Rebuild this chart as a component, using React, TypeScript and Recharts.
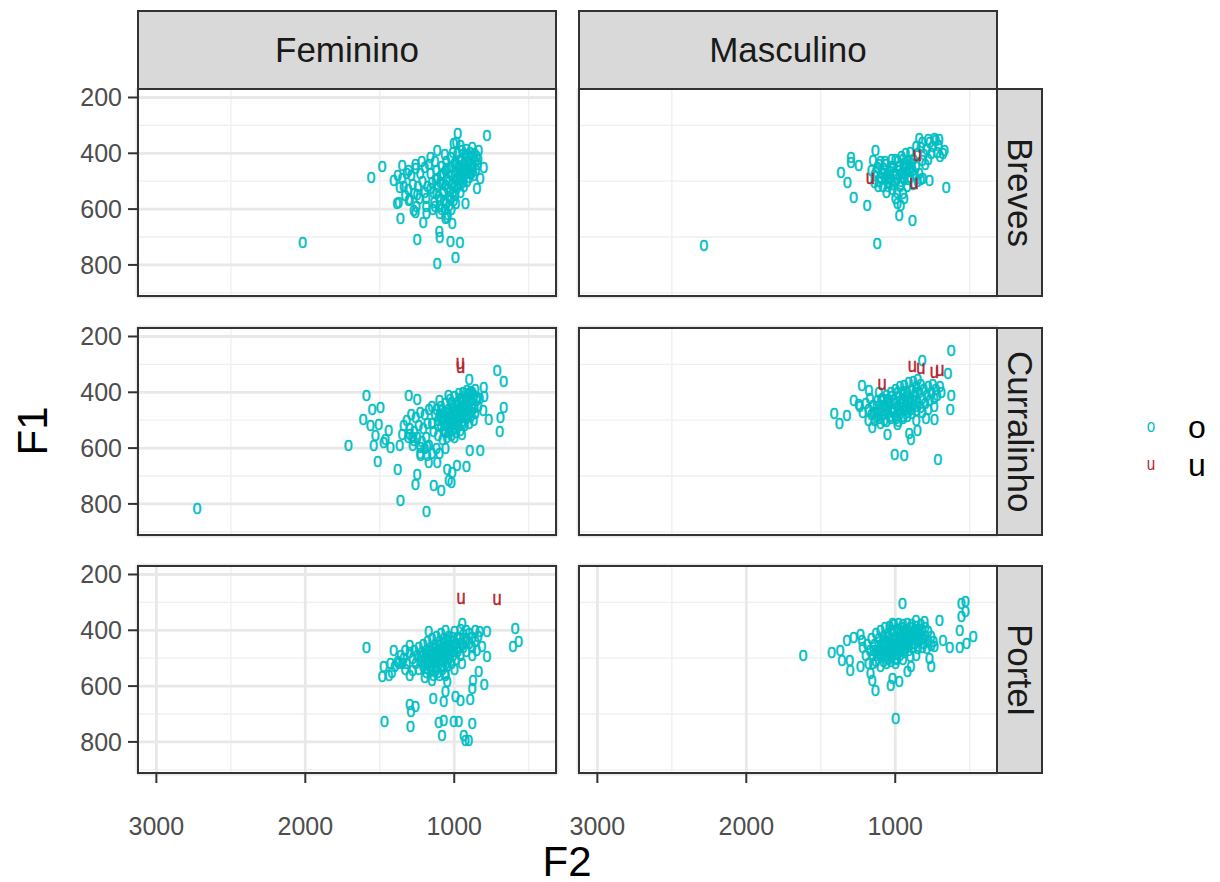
import React from 'react';
import { ScatterChart, Scatter, XAxis, YAxis, CartesianGrid } from 'recharts';

type Pt = [number, number]; // [F2, F1]

const sexes = ['Feminino', 'Masculino'];
const cities = ['Breves', 'Curralinho', 'Portel'];
const vowels = ['o', 'u'];
const xTicks = [1000, 2000, 3000];
const xMinorTicks = [500, 1500, 2500];
const yTicks = [200, 400, 600, 800];
const yMinorTicks = [300, 500, 700, 900];

const femBrevesO: Pt[] = [
  [2018, 718], [1559, 487], [1485, 447], [781, 336], [977, 327], [987, 360], [1005, 364], [1116, 793],
  [993, 774], [1250, 708], [1102, 680], [1099, 700], [1027, 717], [962, 720], [1362, 633], [1210, 647],
  [1015, 652], [1273, 606], [1262, 610], [1188, 614], [1060, 634], [1049, 629], [1385, 580], [1374, 575],
  [1307, 569], [1250, 547], [926, 580], [848, 524], [826, 491], [803, 450], [837, 391], [1161, 414],
  [1116, 390], [1351, 444], [1262, 438], [1307, 461], [1407, 497], [1367, 521],
  [1160, 470], [1150, 505], [1140, 540], [1135, 575], [1145, 600], [1120, 460], [1115, 490], [1110, 520],
  [1105, 555], [1100, 590], [1098, 615], [1090, 480], [1085, 445], [1080, 510], [1075, 540], [1070, 570],
  [1065, 600], [1060, 460], [1055, 430], [1050, 495], [1045, 525], [1040, 555], [1035, 585], [1030, 450],
  [1025, 415], [1020, 480], [1015, 510], [1010, 540], [1005, 570], [1000, 435], [995, 465], [990, 495],
  [985, 525], [980, 400], [975, 450], [970, 480], [965, 510], [960, 540], [955, 420], [950, 390],
  [945, 460], [940, 490], [935, 520], [930, 440], [925, 405], [920, 470], [915, 500], [910, 425],
  [905, 455], [900, 485], [895, 395], [890, 440], [885, 470], [880, 415], [875, 450], [870, 480],
  [865, 400], [860, 430], [855, 460], [850, 410], [845, 440], [840, 420], [1130, 430], [1170, 440],
  [1180, 520], [1190, 560], [1065, 405], [1010, 395], [960, 370], [920, 385], [880, 380], [1045, 620],
  [1020, 600], [990, 580],
  [1125, 495], [1095, 505], [1095, 565], [1085, 600], [1060, 515], [1055, 580], [1035, 500], [1030, 535],
  [1025, 565], [1000, 520], [995, 550], [985, 440], [970, 425], [965, 495], [950, 470], [945, 505],
  [940, 440], [930, 470], [915, 455], [905, 430], [895, 470], [880, 445], [1075, 470], [1120, 545],
  [1130, 590], [1160, 525], [1050, 455], [1000, 480], [920, 410], [960, 455],
  [1200, 450], [1230, 470], [1260, 455], [1290, 480], [1320, 470], [1350, 490], [1215, 500], [1245, 520],
  [1280, 510], [1310, 530], [1340, 520], [1200, 540], [1235, 560], [1270, 545], [1300, 565], [1220, 430],
  [1190, 590], [1255, 590], [1330, 550], [1380, 480],
];
const femBrevesU: Pt[] = [];

const mascBrevesO: Pt[] = [
  [2286, 730], [1122, 724], [1134, 390], [1298, 414], [1298, 432], [1246, 444], [1366, 467], [1321, 503],
  [1280, 557], [1190, 587], [975, 623], [885, 641], [964, 587], [659, 523], [670, 390], [738, 348],
  [771, 497], [817, 491], [986, 581],
  [1100, 430], [1080, 455], [1060, 480], [1040, 505], [1020, 530], [1090, 470], [1070, 495], [1050, 520],
  [1030, 445], [1010, 470], [990, 495], [970, 520], [1000, 420], [980, 445], [960, 470], [940, 495],
  [920, 520], [960, 410], [940, 435], [920, 460], [900, 485], [880, 510], [930, 400], [910, 425],
  [890, 450], [870, 475], [850, 500], [900, 395], [880, 420], [860, 445], [840, 470], [830, 495],
  [1120, 450], [1140, 480], [1150, 425], [1110, 500], [1060, 540], [990, 540], [950, 545], [1000, 560],
  [940, 560],
  [1130, 465], [1110, 440], [1095, 490], [1075, 470], [1065, 440], [1045, 490], [1035, 465], [1015, 450],
  [1005, 505], [995, 475], [985, 430], [975, 460], [955, 485], [945, 450], [935, 475], [925, 440],
  [915, 495], [905, 465], [895, 435], [885, 460], [1085, 520], [1050, 505], [1020, 510], [965, 500],
  [1160, 460], [1140, 505], [1115, 520], [1025, 420], [950, 420], [1070, 430],
  [850, 400], [830, 380], [810, 405], [790, 385], [770, 360], [750, 375], [730, 355], [710, 370],
  [700, 410], [720, 395], [760, 400], [780, 420], [800, 440], [820, 425], [860, 375], [705, 350],
  [780, 350], [820, 360], [840, 345], [680, 400],
];
const mascBrevesU: Pt[] = [[1167, 491], [851, 408], [873, 509]];

const femCurralinhoO: Pt[] = [
  [2727, 815], [1712, 590], [1591, 410], [1552, 460], [1497, 454], [1613, 498], [1564, 519], [1508, 515],
  [1441, 537], [1463, 567], [1530, 553], [1541, 591], [1474, 579], [1430, 597], [1367, 591], [1515, 648],
  [1380, 675], [1362, 788], [1188, 827], [1250, 693], [1262, 729], [1139, 734], [1089, 750], [1049, 675],
  [1015, 687], [1038, 717], [1020, 723], [982, 663], [919, 665], [1172, 651], [1116, 651], [1228, 627],
  [1183, 627], [897, 609], [826, 607], [696, 541], [691, 489], [669, 454], [713, 323], [669, 359],
  [770, 496], [900, 352], [915, 394], [848, 418], [803, 383], [799, 413], [807, 466], [1307, 412],
  [1250, 425], [1300, 549], [1284, 561], [1273, 573], [1228, 597], [1183, 594],
  [1130, 480], [1110, 500], [1090, 520], [1070, 540], [1050, 560], [1120, 460], [1100, 480], [1080, 500],
  [1060, 520], [1040, 540], [1020, 555], [1090, 450], [1070, 470], [1050, 490], [1030, 510], [1010, 530],
  [990, 545], [1060, 440], [1040, 460], [1020, 480], [1000, 500], [980, 520], [960, 535], [1030, 425],
  [1010, 445], [990, 465], [970, 485], [950, 505], [930, 520], [1000, 415], [980, 435], [960, 455],
  [940, 475], [920, 495], [900, 510], [970, 405], [950, 425], [930, 445], [910, 465], [890, 485],
  [870, 500], [940, 400], [920, 420], [900, 440], [880, 460], [860, 475], [850, 430], [870, 410],
  [890, 395], [840, 450], [830, 420], [860, 390], [1150, 510], [1140, 540], [1110, 555], [1080, 570],
  [1000, 560], [950, 550], [1150, 450], [1100, 430], [1040, 410],
  [1075, 485], [1055, 505], [1035, 525], [1045, 475], [1025, 495], [1005, 515], [1015, 460], [995, 480],
  [975, 500], [985, 445], [965, 470], [945, 490], [955, 435], [935, 460], [915, 480], [925, 430],
  [905, 450], [885, 470], [895, 420], [875, 440], [865, 455], [905, 405], [880, 400], [1085, 465],
  [1110, 520], [1060, 545], [1000, 530], [945, 515], [1020, 435], [960, 420],
  [1170, 460], [1200, 480], [1230, 470], [1260, 490], [1290, 480], [1320, 500], [1180, 510], [1210, 530],
  [1240, 520], [1270, 540], [1300, 530], [1190, 560], [1220, 575], [1250, 560], [1280, 590], [1310, 560],
  [1340, 520], [1350, 550], [1200, 600], [1170, 590], [1230, 620], [1150, 620], [1120, 600], [1100, 620],
  [1060, 600],
];
const femCurralinhoU: Pt[] = [[960, 296], [958, 312]];

const mascCurralinhoO: Pt[] = [
  [625, 248], [820, 287], [1410, 475], [1376, 511], [1325, 482], [1280, 430], [1246, 442], [1224, 376],
  [1178, 392], [1111, 400], [1054, 552], [907, 546], [896, 567], [851, 537], [1004, 624], [941, 626],
  [715, 639], [632, 460], [625, 412], [647, 333], [738, 496], [795, 493], [1156, 525], [986, 513],
  [1043, 430],
  [1200, 440], [1180, 460], [1160, 480], [1140, 500], [1170, 420], [1150, 445], [1130, 470], [1110, 495],
  [1120, 430], [1100, 455], [1080, 480], [1060, 505], [1090, 420], [1070, 445], [1050, 470], [1030, 495],
  [1060, 410], [1040, 435], [1020, 460], [1000, 485], [980, 505], [1030, 400], [1010, 425], [990, 450],
  [970, 475], [950, 495], [1000, 390], [980, 415], [960, 440], [940, 465], [920, 485], [970, 380],
  [950, 405], [930, 430], [910, 455], [890, 475], [940, 375], [920, 400], [900, 420], [880, 445],
  [860, 465], [910, 365], [890, 390], [870, 410], [850, 435], [830, 455], [880, 360], [860, 380],
  [840, 400], [820, 420], [800, 440], [850, 355], [830, 370], [810, 390], [790, 410], [770, 430],
  [780, 380], [760, 400], [740, 420], [750, 370], [730, 390], [720, 410], [700, 380], [690, 400],
  [820, 470], [780, 460], [740, 450], [860, 500], [1180, 500], [1220, 470], [1240, 450],
  [1145, 470], [1125, 490], [1105, 470], [1085, 445], [1075, 500], [1065, 460], [1045, 450], [1035, 485],
  [1015, 470], [1005, 440], [995, 495], [985, 460], [965, 455], [955, 420], [945, 485], [935, 445],
  [925, 415], [915, 470], [905, 435], [895, 460], [875, 430], [865, 400], [855, 450], [1125, 450],
  [1095, 430], [1055, 425], [1025, 415], [985, 400], [945, 395], [1100, 510],
];
const mascCurralinhoU: Pt[] = [[885, 307], [828, 313], [738, 327], [700, 323], [1088, 372]];

const femPortelO: Pt[] = [
  [1591, 461], [591, 393], [606, 456], [568, 441], [781, 405], [948, 375], [1172, 405], [1407, 473],
  [1430, 518], [1474, 530], [1485, 566], [1374, 518], [1300, 667], [1262, 673], [1291, 691], [1470, 727],
  [1295, 745], [1143, 643], [1072, 656], [993, 635], [960, 652], [893, 647], [1060, 620], [881, 608],
  [875, 578], [799, 592], [837, 548], [781, 494], [815, 459], [1105, 731], [1072, 721], [1004, 727],
  [971, 727], [881, 733], [1083, 775], [937, 775], [926, 793], [904, 793], [1049, 584], [1060, 554],
  [1300, 480], [1280, 500], [1260, 520], [1240, 540], [1270, 470], [1250, 490], [1230, 510], [1210, 530],
  [1190, 550], [1240, 460], [1220, 480], [1200, 500], [1180, 520], [1160, 540], [1140, 560], [1210, 450],
  [1190, 470], [1170, 490], [1150, 510], [1130, 530], [1110, 550], [1180, 440], [1160, 460], [1140, 480],
  [1120, 500], [1100, 520], [1080, 540], [1150, 430], [1130, 450], [1110, 470], [1090, 490], [1070, 510],
  [1050, 530], [1120, 420], [1100, 440], [1080, 460], [1060, 480], [1040, 500], [1020, 520], [1090, 410],
  [1070, 430], [1050, 450], [1030, 470], [1010, 490], [990, 505], [1060, 400], [1040, 420], [1020, 440],
  [1000, 460], [980, 475], [960, 490], [1000, 405], [980, 425], [960, 445], [940, 460], [920, 475],
  [960, 395], [940, 415], [920, 430], [900, 445], [880, 460], [920, 400], [900, 410], [880, 425],
  [860, 440], [840, 420], [860, 400], [830, 405], [850, 470], [880, 490], [1100, 560], [1060, 560],
  [1000, 540], [950, 520], [1320, 520], [1340, 500], [1200, 570], [1150, 580],
  [1225, 495], [1205, 515], [1185, 535], [1195, 485], [1175, 505], [1155, 525], [1165, 475], [1145, 495],
  [1125, 515], [1135, 465], [1115, 485], [1095, 505], [1105, 455], [1085, 475], [1065, 495], [1075, 445],
  [1055, 465], [1035, 485], [1045, 435], [1025, 455], [1005, 475], [1015, 425], [995, 445], [975, 465],
  [965, 430], [945, 450], [925, 440], [1125, 545], [1085, 525], [1045, 515],
  [1300, 455], [1330, 470], [1360, 490], [1350, 520], [1380, 510], [1400, 530], [1420, 550], [1440, 560],
  [1330, 540], [1300, 560], [1280, 545],
];
const femPortelU: Pt[] = [[955, 285], [713, 289]];

const mascPortelO: Pt[] = [
  [1619, 488], [953, 303], [998, 715], [1427, 480], [1371, 471], [1359, 506], [1325, 435], [1280, 425],
  [1235, 413], [1224, 435], [1306, 506], [1303, 542], [1235, 530], [1167, 554], [1156, 578], [1134, 614],
  [1020, 572], [975, 584], [1032, 596], [704, 363], [681, 435], [636, 461], [568, 461], [523, 446],
  [478, 423], [557, 303], [530, 297], [530, 333], [557, 351], [568, 399], [760, 530], [772, 500],
  [738, 459], [896, 530], [919, 548], [1020, 375], [862, 363], [805, 369],
  [1190, 450], [1170, 470], [1150, 490], [1130, 510], [1160, 430], [1140, 450], [1120, 470], [1100, 490],
  [1080, 510], [1130, 410], [1110, 430], [1090, 450], [1070, 470], [1050, 490], [1030, 510], [1100, 400],
  [1080, 420], [1060, 440], [1040, 460], [1020, 480], [1000, 500], [1070, 390], [1050, 410], [1030, 430],
  [1010, 450], [990, 470], [970, 490], [1040, 385], [1020, 400], [1000, 420], [980, 440], [960, 460],
  [940, 480], [1010, 380], [990, 395], [970, 410], [950, 430], [930, 450], [910, 470], [980, 375],
  [960, 390], [940, 405], [920, 420], [900, 440], [880, 460], [950, 380], [930, 395], [910, 410],
  [890, 425], [870, 445], [850, 465], [920, 375], [900, 390], [880, 405], [860, 420], [840, 440],
  [820, 460], [890, 380], [870, 395], [850, 410], [830, 425], [810, 445], [790, 465], [860, 385],
  [840, 395], [820, 405], [800, 420], [780, 440], [760, 455], [830, 380], [800, 390], [780, 405],
  [760, 420], [745, 440], [1150, 520], [1100, 530], [1060, 520], [1000, 520], [950, 505], [900, 495],
  [860, 490], [1200, 490], [1220, 460], [1180, 520],
  [1145, 470], [1125, 490], [1115, 455], [1095, 470], [1085, 440], [1075, 490], [1065, 455], [1055, 425],
  [1045, 475], [1035, 445], [1025, 495], [1015, 465], [1005, 435], [995, 485], [985, 455], [975, 425],
  [965, 475], [955, 445], [945, 415], [935, 465], [925, 435], [915, 455], [895, 415], [885, 445],
  [875, 425], [855, 440], [835, 415], [815, 430], [1050, 505], [990, 505],
];
const mascPortelU: Pt[] = [];

// rows = cities, cols = sexes
const panelData: [Pt[], Pt[]][][] = [
  [[femBrevesO, femBrevesU], [mascBrevesO, mascBrevesU]],
  [[femCurralinhoO, femCurralinhoU], [mascCurralinhoO, mascCurralinhoU]],
  [[femPortelO, femPortelU], [mascPortelO, mascPortelU]],
];

const FONT = '"Liberation Sans", Arial, sans-serif';
const O_COLOR = '#00BFC4';
const U_COLOR = '#B5232F';
const PANEL_W = 420;
const PANEL_H = 209;
const COL_X = [137, 578];
const ROW_Y = [88, 327, 565];
const Y_AXIS_W = 110;
const X_AXIS_H = 80;
const X_DOMAIN = [310, 3130];
const Y_DOMAIN = [166, 915];

const toRows = (pts: Pt[]) => pts.map(([f2, f1]) => ({ f2, f1 }));

const glyph = (color: string, ch: string) => (props: any) => {
  const { cx, cy } = props;
  if (cx == null || cy == null) return <g />;
  return (
    <text
      transform={`translate(${cx},${cy}) scale(0.78,1)`}
      textAnchor="middle"
      dy="0.27em"
      fontSize={21}
      fontFamily={FONT}
      fill={color}
      stroke={color}
      strokeWidth={0.5}
    >
      {ch}
    </text>
  );
};

const tickStyle = { fill: '#4D4D4D', fontSize: 25, fontFamily: FONT };

function Panel({ row, col }: { row: number; col: number }) {
  const [oPts, uPts] = panelData[row][col];
  const showY = col === 0;
  const showX = row === 2;
  const w = PANEL_W + (showY ? Y_AXIS_W : 0);
  const h = PANEL_H + (showX ? X_AXIS_H : 0);
  return (
    <div style={{ position: 'absolute', left: COL_X[col] - (showY ? Y_AXIS_W : 0), top: ROW_Y[row] }}>
      <ScatterChart width={w} height={h} margin={{ top: 0, right: 0, bottom: 0, left: 0 }}>
        <CartesianGrid xAxisId="minor" yAxisId="minor" stroke="#EFEFEF" strokeWidth={1.3} />
        <CartesianGrid stroke="#E8E8E8" strokeWidth={2.8} />
        <XAxis
          type="number"
          dataKey="f2"
          domain={X_DOMAIN}
          reversed
          allowDataOverflow
          ticks={xTicks}
          interval={0}
          height={showX ? X_AXIS_H : 0}
          tick={showX ? tickStyle : false}
          tickLine={showX ? { stroke: '#333333', strokeWidth: 2 } : false}
          tickSize={9}
          tickMargin={34}
          axisLine={false}
        />
        <YAxis
          type="number"
          dataKey="f1"
          domain={Y_DOMAIN}
          reversed
          allowDataOverflow
          ticks={yTicks}
          interval={0}
          width={showY ? Y_AXIS_W : 0}
          tick={showY ? tickStyle : false}
          tickLine={showY ? { stroke: '#333333', strokeWidth: 2 } : false}
          tickSize={9}
          tickMargin={6}
          axisLine={false}
        />
        <XAxis xAxisId="minor" type="number" dataKey="f2" domain={X_DOMAIN} reversed allowDataOverflow ticks={xMinorTicks} hide />
        <YAxis yAxisId="minor" type="number" dataKey="f1" domain={Y_DOMAIN} reversed allowDataOverflow ticks={yMinorTicks} hide />
        <Scatter data={toRows(oPts)} shape={glyph(O_COLOR, vowels[0])} isAnimationActive={false} />
        <Scatter data={toRows(uPts)} shape={glyph(U_COLOR, vowels[1])} isAnimationActive={false} />
      </ScatterChart>
    </div>
  );
}

const stripBase: React.CSSProperties = {
  position: 'absolute',
  boxSizing: 'border-box',
  background: '#D9D9D9',
  border: '2px solid #333333',
  display: 'flex',
  alignItems: 'center',
  justifyContent: 'center',
  color: '#1A1A1A',
  fontFamily: FONT,
  fontSize: 35,
};

export default function App() {
  return (
    <div style={{ position: 'absolute', left: 0, top: 0, width: 1220, height: 882, background: '#fff', overflow: 'hidden' }}>
      <style>{'.recharts-surface{overflow:visible}'}</style>
      {cities.map((_, r) => sexes.map((_, c) => <Panel key={`${r}-${c}`} row={r} col={c} />))}
      {cities.map((_, r) =>
        sexes.map((_, c) => (
          <div
            key={`b-${r}-${c}`}
            style={{
              position: 'absolute', left: COL_X[c], top: ROW_Y[r], width: PANEL_W, height: PANEL_H,
              boxSizing: 'border-box', border: '2px solid #333333', pointerEvents: 'none',
            }}
          />
        ))
      )}
      {sexes.map((s, c) => (
        <div key={s} style={{ ...stripBase, left: COL_X[c], top: 10, width: PANEL_W, height: 80 }}>{s}</div>
      ))}
      {cities.map((city, r) => (
        <div key={city} style={{ ...stripBase, left: COL_X[1] + PANEL_W - 2, top: ROW_Y[r], width: 47, height: PANEL_H }}>
          <span style={{ writingMode: 'vertical-rl' }}>{city}</span>
        </div>
      ))}
      <div style={{ position: 'absolute', left: 33, top: 431, transform: 'translate(-50%,-50%) rotate(-90deg)', fontFamily: FONT, fontSize: 42, color: '#000' }}>F1</div>
      <div style={{ position: 'absolute', left: 567, top: 862, transform: 'translate(-50%,-50%)', fontFamily: FONT, fontSize: 42, color: '#000' }}>F2</div>
      <div style={{ position: 'absolute', left: 1138, top: 408, fontFamily: FONT }}>
        {vowels.map((v, i) => (
          <div key={v} style={{ display: 'flex', alignItems: 'center', height: 38 }}>
            <svg width={26} height={38}>
              <text transform="translate(13,19) scale(0.8,1)" textAnchor="middle" dy="0.27em" fontSize={19} fontFamily={FONT} fill={i === 0 ? O_COLOR : U_COLOR}>{v}</text>
            </svg>
            <span style={{ marginLeft: 24, fontSize: 32, color: '#000', lineHeight: '38px' }}>{v}</span>
          </div>
        ))}
      </div>
    </div>
  );
}
